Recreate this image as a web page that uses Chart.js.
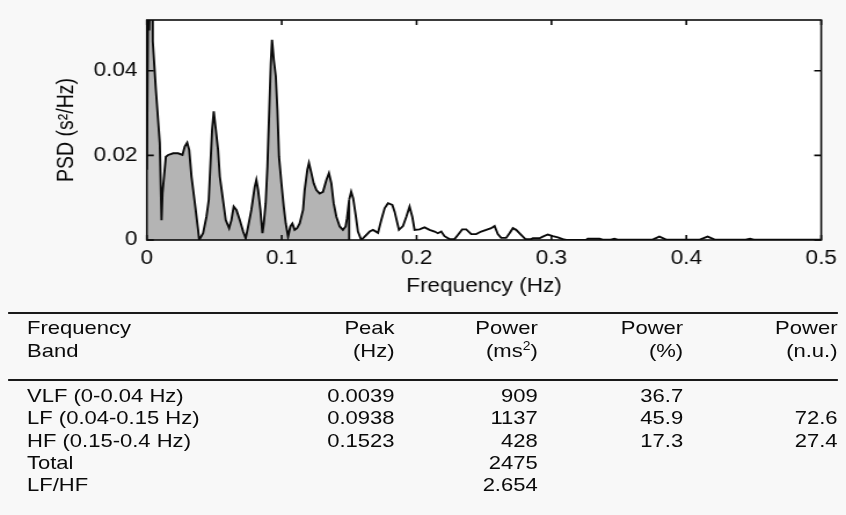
<!DOCTYPE html>
<html>
<head>
<meta charset="utf-8">
<script src="https://cdn.jsdelivr.net/npm/chart.js@4.4.1/dist/chart.umd.min.js"></script>
<style>
  html, body { margin: 0; padding: 0; background: #f8f8f8; }
  body { width: 846px; height: 515px; overflow: hidden; position: relative; }
  /* the picture is a bit wider than its fonts, so stretch everything */
  #wrap { position: absolute; left: 0; top: 0; width: 730px; height: 515px;
          transform: scaleX(1.1589); transform-origin: 0 0;
          font-family: "Liberation Sans", Arial, sans-serif; color: #0a0a0a; }
  #psd { position: absolute; left: 0; top: 0; }
  .rule { position: absolute; left: 7px; width: 716px; height: 2px; background: #1a1a1a; }
  .cell { position: absolute; font-size: 19px; line-height: 22px; white-space: nowrap; }
  sup { font-size: 12px; line-height: 0; vertical-align: 7px; }
</style>
</head>
<body>
<div id="wrap">
  <canvas id="psd" width="730" height="300"></canvas>
  <div id="table"></div>
</div>
<script>
// spectrum (Hz, s^2/Hz)
const freqHz = [
  0.0000, 0.0010, 0.0017, 0.0024, 0.0040, 0.0044, 0.0067, 0.0096, 0.0109, 0.0116,
  0.0141, 0.0158, 0.0195, 0.0232, 0.0264, 0.0281, 0.0299, 0.0314, 0.0331, 0.0356,
  0.0380, 0.0388, 0.0417, 0.0442, 0.0459, 0.0472, 0.0484, 0.0496, 0.0509, 0.0528,
  0.0541, 0.0561, 0.0585, 0.0610, 0.0627, 0.0644, 0.0664, 0.0689, 0.0714, 0.0733,
  0.0751, 0.0775, 0.0800, 0.0812, 0.0825, 0.0842, 0.0857, 0.0867, 0.0881, 0.0894,
  0.0906, 0.0919, 0.0928, 0.0941, 0.0956, 0.0968, 0.0980, 0.0998, 0.1015, 0.1030,
  0.1047, 0.1064, 0.1079, 0.1096, 0.1114, 0.1133, 0.1158, 0.1170, 0.1190, 0.1202,
  0.1220, 0.1237, 0.1257, 0.1281, 0.1306, 0.1331, 0.1350, 0.1368, 0.1385, 0.1405,
  0.1430, 0.1454, 0.1474, 0.1484, 0.1500, 0.1515, 0.1530, 0.1550, 0.1565, 0.1590,
  0.1615, 0.1652, 0.1677, 0.1714, 0.1738, 0.1763, 0.1788, 0.1820, 0.1837, 0.1869,
  0.1899, 0.1924, 0.1948, 0.1968, 0.1985, 0.2022, 0.2059, 0.2096, 0.2133, 0.2158,
  0.2183, 0.2207, 0.2244, 0.2281, 0.2306, 0.2338, 0.2368, 0.2405, 0.2442, 0.2479,
  0.2516, 0.2553, 0.2578, 0.2602, 0.2627, 0.2664, 0.2689, 0.2714, 0.2738, 0.2775,
  0.2807, 0.2849, 0.2862, 0.2911, 0.2936, 0.2973, 0.3010, 0.3047, 0.3084, 0.3109,
  0.3257, 0.3269, 0.3356, 0.3380, 0.3440, 0.3467, 0.3490, 0.3750, 0.3800, 0.3850,
  0.4100, 0.4158, 0.4210, 0.4440, 0.4472, 0.4500, 0.5000
];
const psd = [
  0.0166, 0.0580, 0.0495, 0.0580, 0.0700, 0.0470, 0.0355, 0.0229, 0.0047, 0.0110,
  0.0197, 0.0201, 0.0205, 0.0205, 0.0201, 0.0221, 0.0230, 0.0213, 0.0150, 0.0087,
  0.0024, 0.0000, 0.0016, 0.0055, 0.0095, 0.0182, 0.0260, 0.0304, 0.0268, 0.0213,
  0.0150, 0.0103, 0.0047, 0.0028, 0.0047, 0.0079, 0.0071, 0.0047, 0.0020, 0.0004,
  0.0032, 0.0071, 0.0126, 0.0142, 0.0118, 0.0071, 0.0016, 0.0039, 0.0087, 0.0174,
  0.0292, 0.0418, 0.0473, 0.0426, 0.0387, 0.0308, 0.0197, 0.0134, 0.0079, 0.0039,
  0.0008, 0.0032, 0.0039, 0.0024, 0.0028, 0.0039, 0.0071, 0.0118, 0.0166, 0.0182,
  0.0158, 0.0134, 0.0118, 0.0110, 0.0114, 0.0142, 0.0158, 0.0134, 0.0087, 0.0055,
  0.0032, 0.0024, 0.0032, 0.0051, 0.0095, 0.0114, 0.0098, 0.0055, 0.0020, 0.0000,
  0.0008, 0.0020, 0.0024, 0.0017, 0.0047, 0.0075, 0.0087, 0.0083, 0.0067, 0.0024,
  0.0033, 0.0055, 0.0079, 0.0055, 0.0024, 0.0025, 0.0030, 0.0024, 0.0020, 0.0016,
  0.0020, 0.0009, 0.0002, 0.0002, 0.0012, 0.0025, 0.0025, 0.0014, 0.0014, 0.0020,
  0.0024, 0.0028, 0.0033, 0.0014, 0.0005, 0.0005, 0.0016, 0.0028, 0.0024, 0.0012,
  0.0002, 0.0002, 0.0004, 0.0004, 0.0008, 0.0013, 0.0009, 0.0006, 0.0002, 0.0000,
  0.0000, 0.0003, 0.0003, 0.0001, 0.0001, 0.0003, 0.0001, 0.0001, 0.0008, 0.0001,
  0.0001, 0.0008, 0.0001, 0.0001, 0.0003, 0.0001, 0.0001
];
const hfStart = 0.15;   // grey area covers VLF + LF
const xTicks = [0, 0.1, 0.2, 0.3, 0.4, 0.5];
const xTickLabels = ['0', '0.1', '0.2', '0.3', '0.4', '0.5'];
const yTicks = [0, 0.02, 0.04];
const yTickLabels = ['0', '0.02', '0.04'];

// table below the plot
const bands = ['VLF (0-0.04 Hz)', 'LF (0.04-0.15 Hz)', 'HF (0.15-0.4 Hz)', 'Total', 'LF/HF'];
const peakHz = ['0.0039', '0.0938', '0.1523', '', ''];
const powerMs2 = ['909', '1137', '428', '2475', '2.654'];
const powerPct = ['36.7', '45.9', '17.3', '', ''];
const powerNu = ['', '72.6', '27.4', '', ''];

const pts = freqHz.map((f, i) => ({ x: f, y: psd[i] }));
const lowPts = pts.filter(p => p.x <= hfStart).concat([{ x: hfStart, y: 0 }]);
const highPts = pts.filter(p => p.x >= hfStart);

const font = { family: '"Liberation Sans", Arial, sans-serif', size: 19.5 };
const ink = '#0a0a0a';

const boxPlugin = {
  id: 'box',
  beforeDraw(chart) {
    const { ctx, chartArea: a } = chart;
    ctx.save();
    ctx.fillStyle = '#ffffff';
    ctx.fillRect(a.left, a.top, a.right - a.left, a.bottom - a.top);
    ctx.restore();
  },
  afterDraw(chart) {
    const { ctx, chartArea: a, scales } = chart;
    ctx.save();
    ctx.strokeStyle = ink;
    ctx.lineWidth = 1.6;
    ctx.strokeRect(a.left, a.top, a.right - a.left, a.bottom - a.top);
    ctx.beginPath();
    xTicks.forEach(v => {
      const px = scales.x.getPixelForValue(v);
      ctx.moveTo(px, a.bottom); ctx.lineTo(px, a.bottom - 5);
      ctx.moveTo(px, a.top); ctx.lineTo(px, a.top + 5);
    });
    yTicks.forEach(v => {
      const py = scales.y.getPixelForValue(v);
      ctx.moveTo(a.left, py); ctx.lineTo(a.left + 6, py);
      ctx.moveTo(a.right, py); ctx.lineTo(a.right - 6, py);
    });
    ctx.stroke();
    ctx.restore();
  }
};

new Chart(document.getElementById('psd'), {
  type: 'line',
  data: {
    datasets: [
      { data: lowPts, fill: 'origin', backgroundColor: '#b4b4b4',
        borderColor: ink, borderWidth: 1.9, pointRadius: 0, tension: 0 },
      { data: highPts, fill: false,
        borderColor: ink, borderWidth: 1.9, pointRadius: 0, tension: 0 }
    ]
  },
  options: {
    responsive: false,
    animation: false,
    layout: { padding: { top: 20, right: 21.4, bottom: 0, left: 0 } },
    plugins: { legend: { display: false }, tooltip: { enabled: false } },
    scales: {
      x: {
        type: 'linear', min: 0, max: 0.5,
        afterBuildTicks: s => { s.ticks = xTicks.map(v => ({ value: v })); },
        afterFit: s => { s.height = 60; },
        grid: { display: false, drawTicks: false },
        border: { display: false },
        ticks: { font: font, color: ink, padding: 7,
                 callback: (v, i) => xTickLabels[i] },
        title: { display: true, text: 'Frequency (Hz)', font: font, color: ink,
                 padding: { top: 0, bottom: 1.5 } }
      },
      y: {
        min: 0, max: 0.052,
        afterBuildTicks: s => { s.ticks = yTicks.map(v => ({ value: v })); },
        afterFit: s => { s.width = 126.7; },
        grid: { display: false, drawTicks: false },
        border: { display: false },
        ticks: { font: font, color: ink, padding: 8,
                 callback: (v, i) => yTickLabels[i] },
        title: { display: true, text: 'PSD (s\u00b2/Hz)', font: font, color: ink,
                 padding: { top: 46, bottom: 0 } }
      }
    }
  },
  plugins: [boxPlugin]
});

// build the table with plain positioned text
const table = document.getElementById('table');
const W = 730;
const colLeft = 23.3;
const colRight = [340.5, 464, 589.5, 722.7];
function put(html, top, left, right) {
  const d = document.createElement('div');
  d.className = 'cell';
  d.innerHTML = html;
  d.style.top = top + 'px';
  if (right !== undefined) { d.style.right = (W - right) + 'px'; d.style.textAlign = 'right'; }
  else d.style.left = left + 'px';
  table.appendChild(d);
}
function rule(y) {
  const d = document.createElement('div');
  d.className = 'rule';
  d.style.top = y + 'px';
  table.appendChild(d);
}
rule(312);
rule(378.5);
const head1 = ['Frequency', 'Peak', 'Power', 'Power', 'Power'];
const head2 = ['Band', '(Hz)', '(ms<sup>2</sup>)', '(%)', '(n.u.)'];
[head1, head2].forEach((row, r) => {
  const top = 317.4 + r * 23;
  put(row[0], top, colLeft);
  for (let c = 1; c < row.length; c++) put(row[c], top, undefined, colRight[c - 1]);
});
bands.forEach((b, r) => {
  const top = 385.1 + r * 22.2;
  put(b, top, colLeft);
  [peakHz[r], powerMs2[r], powerPct[r], powerNu[r]].forEach((v, c) => {
    if (v) put(v, top, undefined, colRight[c]);
  });
});
</script>
</body>
</html>
